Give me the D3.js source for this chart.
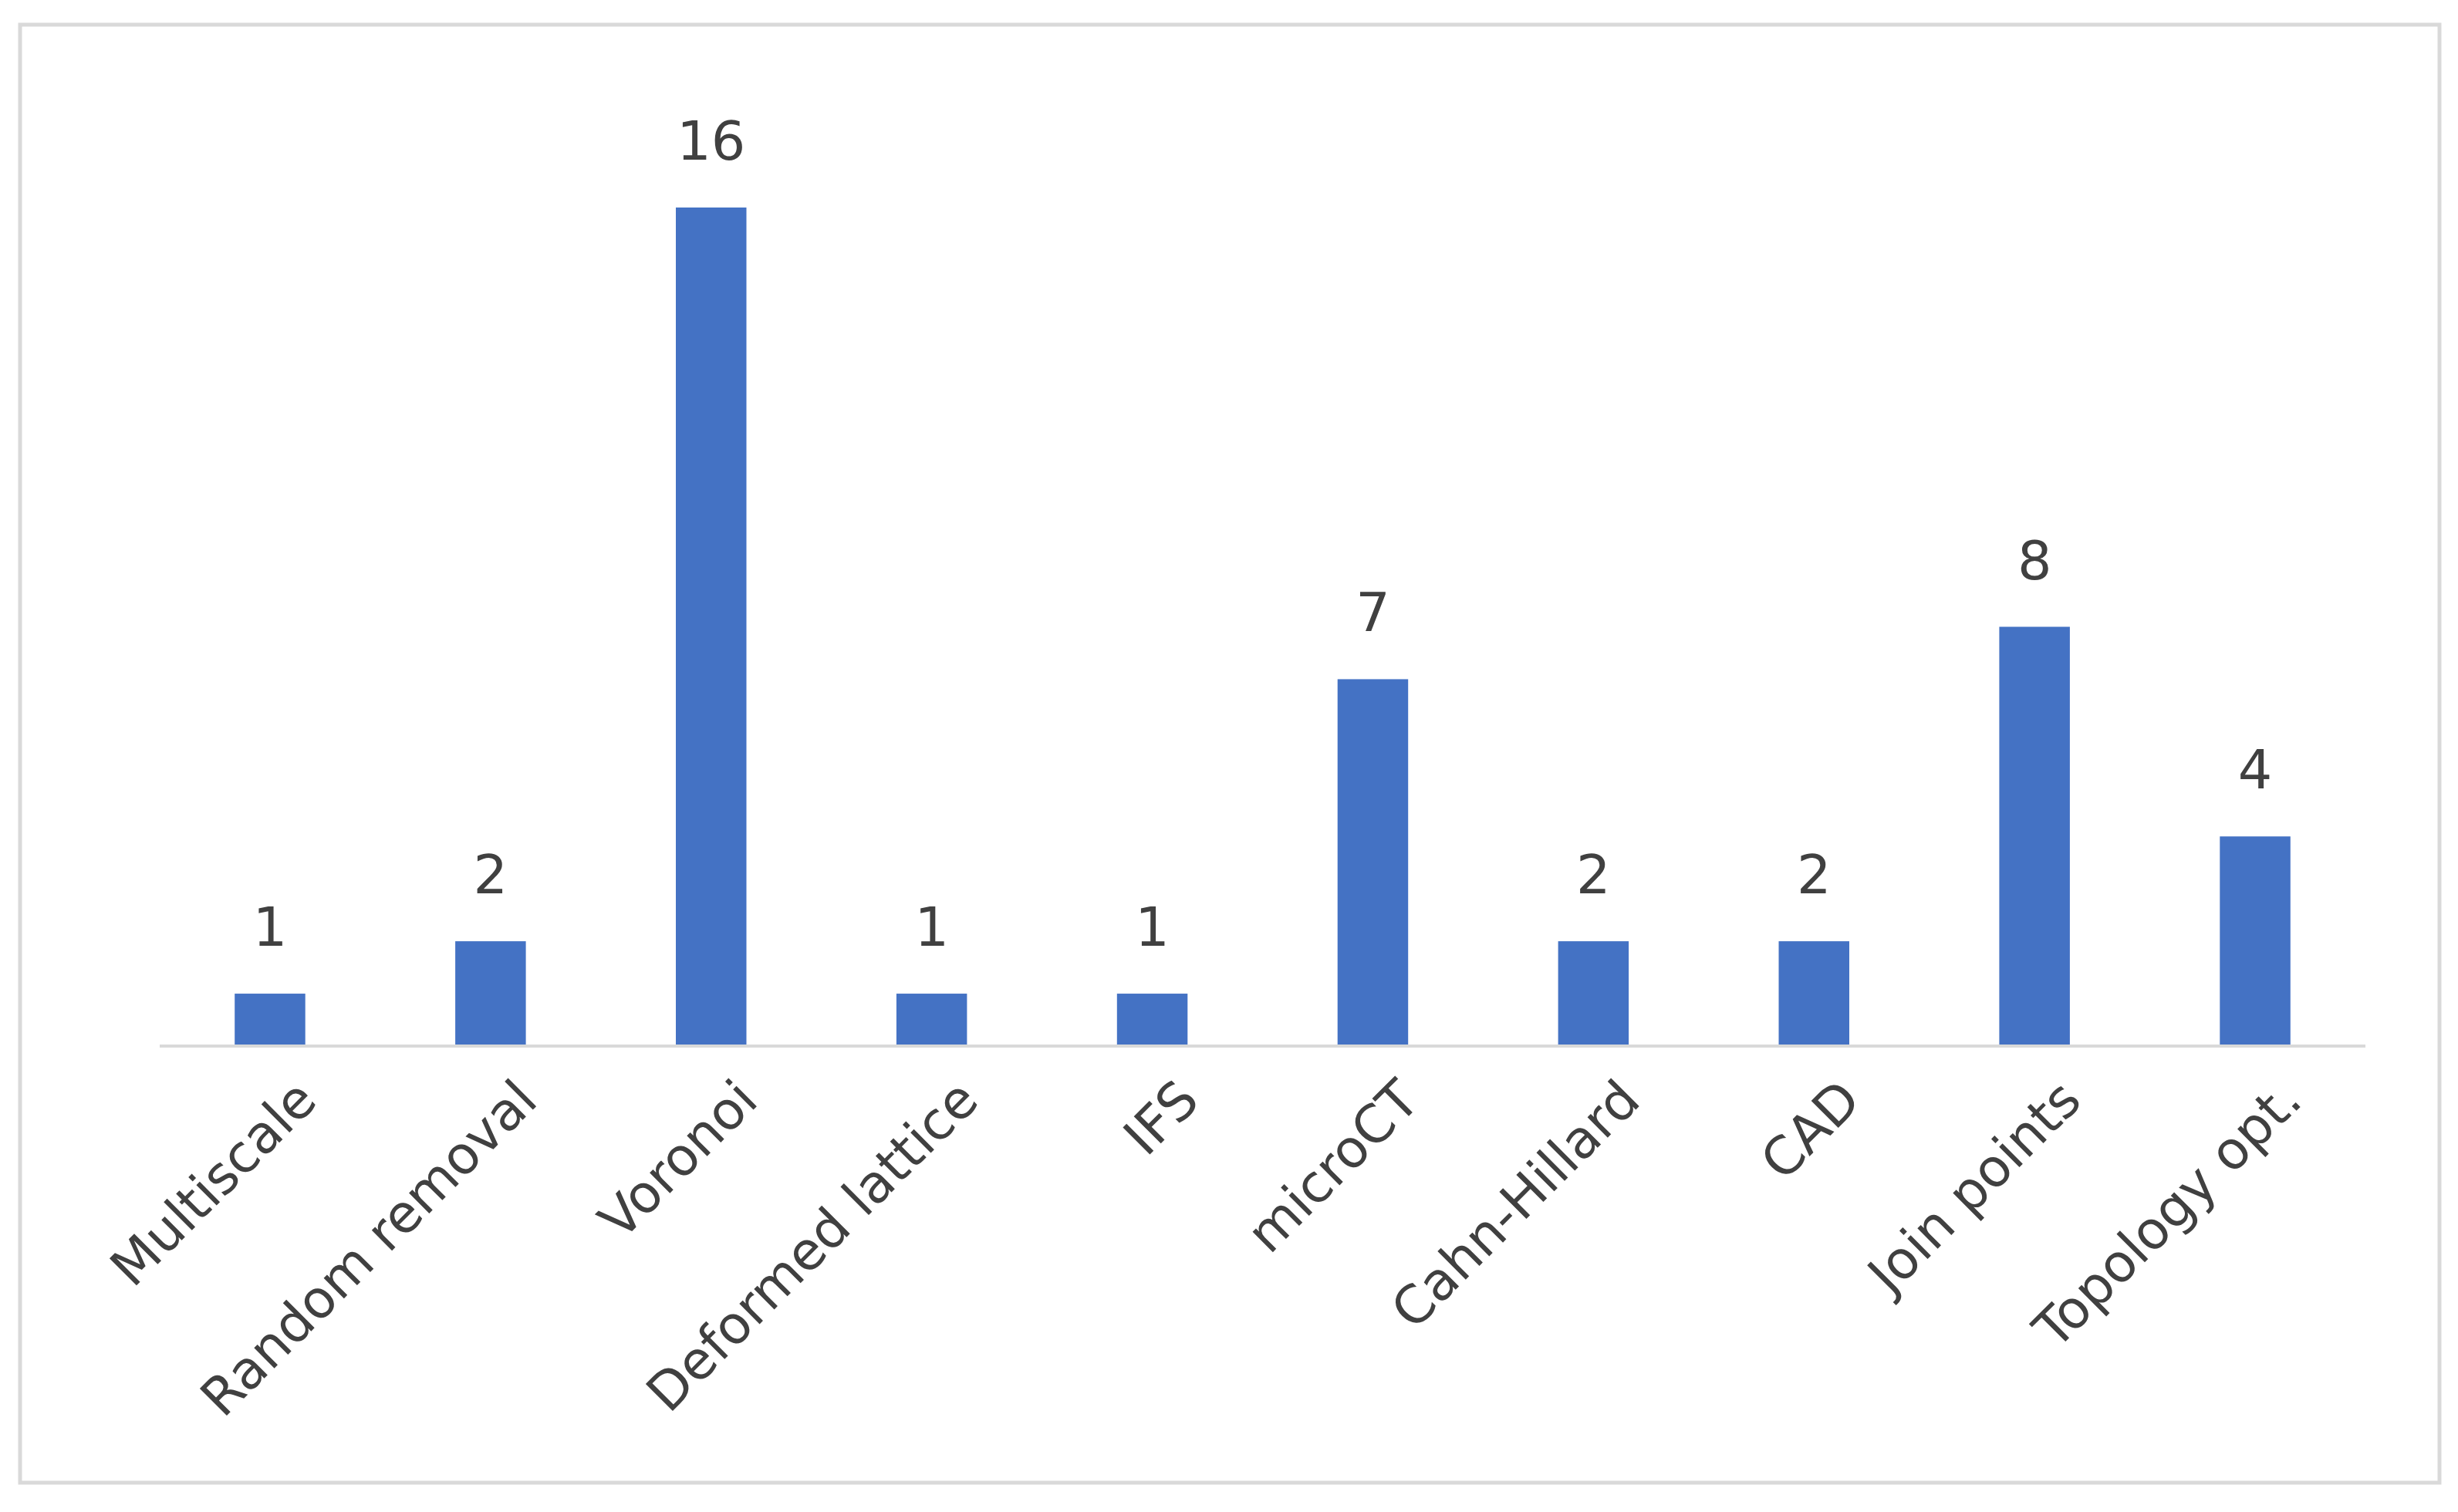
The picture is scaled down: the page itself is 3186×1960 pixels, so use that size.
<!DOCTYPE html>
<html>
<head>
<meta charset="utf-8">
<script src="https://cdn.jsdelivr.net/npm/d3@7"></script>
<style>
  body { margin: 0; background: #fff; }
  text { font-family: "DejaVu Sans", sans-serif; fill: #404040; }
</style>
</head>
<body>
<svg id="chart" width="3186" height="1960"></svg>
<script>
const categories = ["Multiscale", "Random removal", "Voronoi", "Deformed lattice", "IFS",
  "microCT", "Cahn-Hillard", "CAD", "Join points", "Topology opt."];
const counts = [1, 2, 16, 1, 1, 7, 2, 2, 8, 4];

const svg = d3.select("#chart");

// chart frame
svg.append("rect")
  .attr("x", 26).attr("y", 32)
  .attr("width", 3136).attr("height", 1890)
  .attr("fill", "#fff")
  .attr("stroke", "#d9d9d9")
  .attr("stroke-width", 5);

const x = d3.scaleBand()
  .domain(categories)
  .range([207, 3066])
  .paddingInner(0.68)
  .paddingOuter(0.34);

const y = d3.scaleLinear()
  .domain([0, 16])
  .range([1356, 269]);

// bars
svg.append("g").selectAll("rect")
  .data(counts)
  .join("rect")
  .attr("x", (d, i) => x(categories[i]))
  .attr("y", d => y(d))
  .attr("width", x.bandwidth())
  .attr("height", d => y(0) - y(d))
  .attr("fill", "#4472c4");

// value labels
svg.append("g").selectAll("text")
  .data(counts)
  .join("text")
  .attr("x", (d, i) => x(categories[i]) + x.bandwidth() / 2)
  .attr("y", d => y(d) - 62)
  .attr("text-anchor", "middle")
  .attr("font-size", 70)
  .text(d => d);

// x axis line
svg.append("line")
  .attr("x1", 207).attr("x2", 3066)
  .attr("y1", y(0)).attr("y2", y(0))
  .attr("stroke", "#d9d9d9")
  .attr("stroke-width", 4);

// rotated category labels
svg.append("g").selectAll("text")
  .data(categories)
  .join("text")
  .attr("transform", d => `translate(${x(d) + x.bandwidth() / 2 + 30},${y(0) + 40}) rotate(-45)`)
  .attr("text-anchor", "end")
  .attr("dy", "0.7em")
  .attr("font-size", 68)
  .text(d => d);
</script>
</body>
</html>
